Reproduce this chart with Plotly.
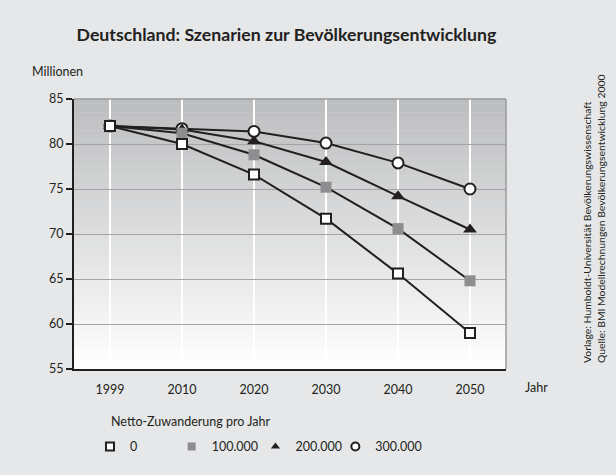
import plotly.graph_objects as go

# ---- data ----
years = ["1999", "2010", "2020", "2030", "2040", "2050"]
s0 = [82.0, 80.0, 76.6, 71.7, 65.6, 59.0]
s100 = [82.0, 81.2, 78.8, 75.2, 70.6, 64.8]
s200 = [82.0, 81.6, 80.3, 78.0, 74.2, 70.5]
s300 = [82.0, 81.7, 81.4, 80.1, 77.9, 75.0]
series_names = ["0", "100.000", "200.000", "300.000"]
y_ticks = [55, 60, 65, 70, 75, 80, 85]

FONT = "Lato"
INK = "#231f20"
BG = "#e6e7e8"

styles = {
    "0": dict(symbol="square", color="white", size=10, line=dict(color=INK, width=2)),
    "100.000": dict(symbol="square", color="#8d8e90", size=11, line=dict(color="#8d8e90", width=0)),
    "200.000": dict(symbol="triangle-up", color=INK, size=12, line=dict(color=INK, width=0)),
    "300.000": dict(symbol="circle", color="white", size=11, line=dict(color=INK, width=2)),
}
values = {"0": s0, "100.000": s100, "200.000": s200, "300.000": s300}

fig = go.Figure()

# data traces: draw 300k first so that "0" ends on top
for name in reversed(series_names):
    st = styles[name]
    fig.add_trace(go.Scatter(
        x=years, y=values[name], mode="lines+markers", name=name, showlegend=False,
        line=dict(color=INK, width=2),
        marker=dict(symbol=st["symbol"], color=st["color"], size=st["size"], line=st["line"]),
        cliponaxis=False,
    ))

# legend-only entries (markers only), each in its own legend box
legend_ids = ["legend", "legend2", "legend3", "legend4"]
legend_x = [0.037, 0.226, 0.42, 0.605]
for name, lid in zip(series_names, legend_ids):
    st = styles[name]
    lw = 2 if st["line"]["width"] else 0
    fig.add_trace(go.Scatter(
        x=[None], y=[None], mode="markers", name=name, showlegend=True, legend=lid,
        marker=dict(symbol=st["symbol"], color=st["color"], size=8,
                    line=dict(color=st["line"]["color"], width=lw)),
    ))

# gradient plot background (bands)
n = 60
top = (188, 189, 191)
bot = (255, 255, 255)
shapes = []
for i in range(n):
    t = i / (n - 1)
    c = tuple(round(top[k] + (bot[k] - top[k]) * t) for k in range(3))
    shapes.append(dict(type="rect", xref="x domain", yref="y domain",
                       x0=0, x1=1, y0=1 - (i + 1) / n, y1=1 - i / n + 0.001,
                       fillcolor="rgb(%d,%d,%d)" % c, line=dict(width=0), layer="below"))
# top/right gray border
shapes.append(dict(type="line", xref="x domain", yref="y domain", x0=0, x1=1, y0=1, y1=1,
                   line=dict(color="#9a9b9d", width=1.5), layer="above"))
shapes.append(dict(type="line", xref="x domain", yref="y domain", x0=1, x1=1, y0=0, y1=1,
                   line=dict(color="#9a9b9d", width=1.5), layer="above"))

legend_common = dict(orientation="h", xanchor="left", y=-0.233, yanchor="top",
                     bgcolor="rgba(0,0,0,0)",
                     font=dict(family=FONT, size=12.5, color=INK), itemclick=False)

fig.update_layout(
    width=616, height=475,
    paper_bgcolor=BG, plot_bgcolor="rgba(0,0,0,0)",
    margin=dict(l=74, r=110, t=99, b=106, autoexpand=False),
    font=dict(family=FONT, color=INK, size=12),
    title=dict(text="<b>Deutschland: Szenarien zur Bevölkerungsentwicklung</b>",
               x=0.465, xanchor="center", y=0.926, yanchor="middle",
               font=dict(family=FONT, size=17.7, color=INK)),
    shapes=shapes,
    showlegend=True,
)
for lid, lx in zip(legend_ids, legend_x):
    fig.update_layout({lid: dict(x=lx, **legend_common)})

fig.update_xaxes(
    type="category", range=[-0.5, 5.5],
    showgrid=True, gridcolor="white", gridwidth=1.5,
    showline=True, linecolor=INK, linewidth=2,
    ticks="", ticklabelstandoff=8, tickfont=dict(family=FONT, size=12.5, color=INK),
    zeroline=False,
)
fig.update_yaxes(
    range=[55, 85], tickvals=y_ticks,
    showgrid=True, gridcolor="#a3a4a6", gridwidth=1,
    showline=True, linecolor=INK, linewidth=2,
    ticks="outside", ticklen=6, tickcolor=INK, tickwidth=1.5,
    tickfont=dict(family=FONT, size=12.5, color=INK),
    zeroline=False,
)

annotations = [
    dict(text="Millionen", xref="paper", yref="paper", x=-0.103, y=1.1,
         xanchor="left", yanchor="middle", showarrow=False, font=dict(size=12.5)),
    dict(text="Jahr", xref="paper", yref="paper", x=1.039, y=-0.067,
         xanchor="left", yanchor="middle", showarrow=False, font=dict(size=12.5)),
    dict(text="Netto-Zuwanderung pro Jahr", xref="paper", yref="paper", x=0.081, y=-0.193,
         xanchor="left", yanchor="middle", showarrow=False, font=dict(size=12.5)),
    dict(text="Vorlage: Humboldt-Universität Bevölkerungswissenschaft<br>"
              "Quelle: BMI Modellrechnungen Bevölkerungsentwicklung 2000",
         xref="paper", yref="paper", x=1.205, y=0.015, xanchor="center", yanchor="bottom",
         textangle=-90, align="left", showarrow=False, font=dict(size=10.4)),
]
fig.update_layout(annotations=annotations)

fig.write_html("out.html", config={"displayModeBar": False},
               post_script="document.body.style.margin='0';")
